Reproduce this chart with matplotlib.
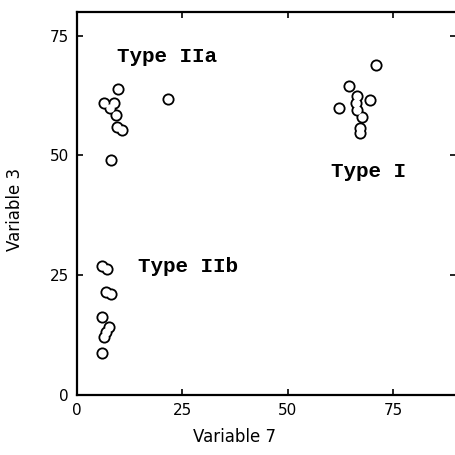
import matplotlib
matplotlib.use("Agg")
import matplotlib.pyplot as plt

# cluster scores: variable 7 (x) vs variable 3 (y)
type1_v7 = [70.8, 64.5, 66.4, 66.2, 66.4, 67.6, 69.6, 62.1, 67.0, 67.0]
type1_v3 = [69.0, 64.6, 62.5, 61.0, 59.6, 58.0, 61.5, 59.9, 55.7, 54.8]

type2a_v7 = [9.6, 6.4, 8.8, 7.8, 9.2, 21.5, 9.4, 10.6, 8.0]
type2a_v3 = [63.9, 61.0, 61.0, 60.0, 58.5, 61.8, 55.9, 55.3, 49.0]

type2b_v7 = [6.0, 7.2, 6.8, 8.0, 5.8, 7.5, 6.9, 6.3, 5.8]
type2b_v3 = [27.0, 26.4, 21.5, 21.1, 16.3, 14.1, 13.2, 12.2, 8.7]

xs = type1_v7 + type2a_v7 + type2b_v7
ys = type1_v3 + type2a_v3 + type2b_v3

fig = plt.figure(figsize=(4.56, 4.55), dpi=100)
ax = fig.add_axes([0.169, 0.132, 0.832, 0.842])

# black discs under white discs -> overlapping circles share one outline
ax.scatter(xs, ys, s=76, color="black", linewidths=0, zorder=3)
ax.scatter(xs, ys, s=37, color="white", linewidths=0, zorder=4)

lab = dict(family="Liberation Mono", fontweight="bold", fontsize=15,
           ha="left", va="baseline")
ax.text(9.5, 69.6, "Type IIa", **lab)
ax.text(14.4, 25.6, "Type IIb", **lab)
ax.text(60.3, 45.6, "Type I", **lab)

ax.set_xlim(0, 90)
ax.set_ylim(0, 80)
ax.set_xticks([0, 25, 50, 75])
ax.set_yticks([0, 25, 50, 75])
ax.tick_params(direction="in", length=4, width=1.2, labelsize=11,
               top=True, right=True, pad=6)
for s in ax.spines.values():
    s.set_linewidth(1.6)
ax.set_xlabel("Variable 7", fontsize=12)
ax.set_ylabel("Variable 3", fontsize=12)
ax.xaxis.set_label_coords(0.416, -0.086)
ax.yaxis.set_label_coords(-0.139, 0.483)

fig.savefig("out.png", dpi=100)
